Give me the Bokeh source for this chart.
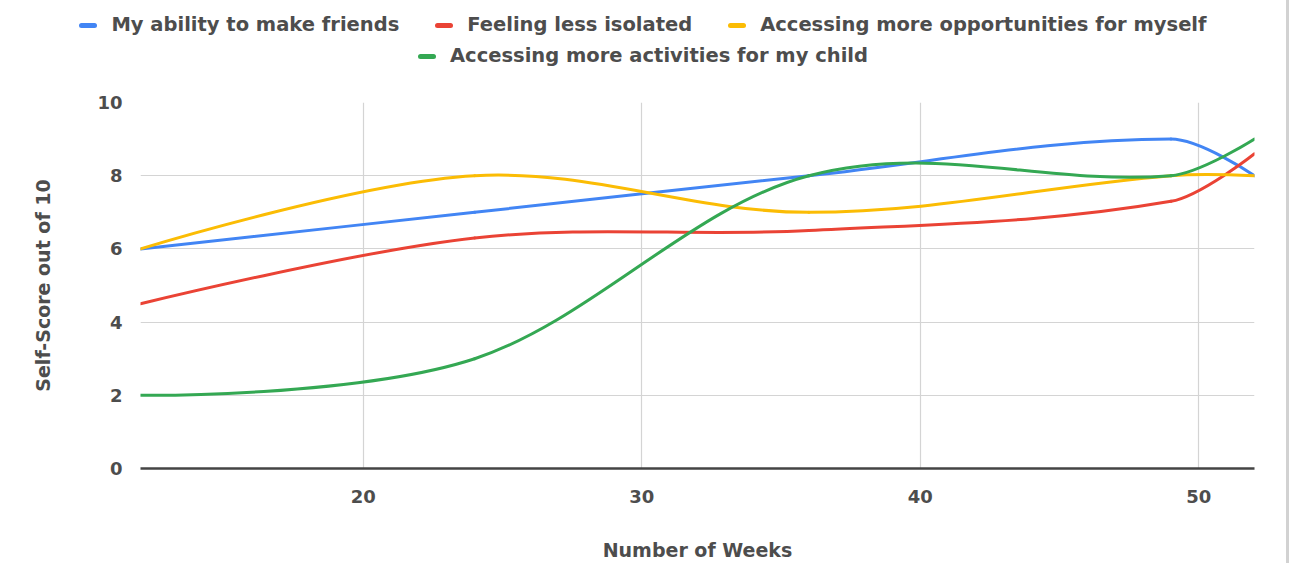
from bokeh.plotting import figure
from bokeh.models import FixedTicker, Div, Range1d
from bokeh.layouts import row, column
from bokeh.embed import file_html
from bokeh.resources import INLINE

# Self-scores recorded at each check-in week
weeks = [12, 24, 36, 49, 52]
make_friends = [6.0, 7.0, 8.0, 9.0, 8.0]
less_isolated = [4.5, 6.3, 6.5, 7.3, 8.6]
opportunities_myself = [6.0, 8.0, 7.0, 8.0, 8.0]
activities_child = [2.0, 3.0, 8.0, 8.0, 9.0]

series_names = [
    "My ability to make friends",
    "Feeling less isolated",
    "Accessing more opportunities for myself",
    "Accessing more activities for my child",
]
series_values = [make_friends, less_isolated, opportunities_myself, activities_child]
series_colors = ["#4285F4", "#EA4335", "#FBBC04", "#34A853"]
legend_rows = [[0, 1, 2], [3]]

x_ticks = [20, 30, 40, 50]
y_ticks = [0, 2, 4, 6, 8, 10]

FONT = "DejaVu Sans"
TEXT = "#4d4d4d"
SMOOTH = 0.35
LEGEND_H = 80
WIDTH = 1286


def bezier_segments(xs, ys, k=SMOOTH):
    """Cubic segments through every point, tangents from the neighbours."""
    seg = dict(x0=[], y0=[], x1=[], y1=[], cx0=[], cy0=[], cx1=[], cy1=[])
    n = len(xs)
    for i in range(n - 1):
        w = xs[i + 1] - xs[i]
        if i == 0:
            c0 = (xs[i], ys[i])
        else:
            span = xs[i + 1] - xs[i - 1]
            c0 = (xs[i] + k * (xs[i + 1] - xs[i - 1]) * w / span,
                  ys[i] + k * (ys[i + 1] - ys[i - 1]) * w / span)
        if i + 1 == n - 1:
            c1 = (xs[i + 1], ys[i + 1])
        else:
            span = xs[i + 2] - xs[i]
            c1 = (xs[i + 1] - k * (xs[i + 2] - xs[i]) * w / span,
                  ys[i + 1] - k * (ys[i + 2] - ys[i]) * w / span)
        seg["x0"].append(xs[i]); seg["y0"].append(ys[i])
        seg["x1"].append(xs[i + 1]); seg["y1"].append(ys[i + 1])
        seg["cx0"].append(c0[0]); seg["cy0"].append(c0[1])
        seg["cx1"].append(c1[0]); seg["cy1"].append(c1[1])
    return seg


p = figure(
    width=WIDTH, height=563 - LEGEND_H,
    x_range=Range1d(12, 52), y_range=Range1d(0, 10),
    output_backend="svg", toolbar_location=None,
    min_border_left=140, min_border_right=32,
    min_border_top=102 - LEGEND_H, min_border_bottom=94,
    outline_line_color=None, margin=0,
)
p.background_fill_color = "white"
p.border_fill_color = "white"

for vals, color in zip(series_values, series_colors):
    seg = bezier_segments(weeks, vals)
    p.bezier(x0=seg["x0"], y0=seg["y0"], x1=seg["x1"], y1=seg["y1"],
             cx0=seg["cx0"], cy0=seg["cy0"], cx1=seg["cx1"], cy1=seg["cy1"],
             line_color=color, line_width=3, line_cap="round")

# Grid
p.xgrid.ticker = FixedTicker(ticks=x_ticks)
p.ygrid.ticker = FixedTicker(ticks=y_ticks)
p.xgrid.grid_line_color = "#d4d4d4"
p.ygrid.grid_line_color = "#d4d4d4"
p.xgrid.grid_line_width = 1.2
p.ygrid.grid_line_width = 1.2

# X axis
xa = p.xaxis[0]
xa.ticker = FixedTicker(ticks=x_ticks)
xa.axis_label = "Number of Weeks"
xa.axis_line_color = "#444444"
xa.axis_line_width = 2.5
xa.major_tick_line_color = None
xa.minor_tick_line_color = None
xa.major_label_standoff = 15
xa.axis_label_standoff = 33
xa.major_label_text_font = FONT
xa.major_label_text_font_style = "bold"
xa.major_label_text_font_size = "18px"
xa.major_label_text_color = TEXT
xa.axis_label_text_font = FONT
xa.axis_label_text_font_style = "bold"
xa.axis_label_text_font_size = "19px"
xa.axis_label_text_color = TEXT

# Y axis
ya = p.yaxis[0]
ya.ticker = FixedTicker(ticks=y_ticks)
ya.axis_label = "Self-Score out of 10"
ya.axis_line_color = None
ya.major_tick_line_color = None
ya.minor_tick_line_color = None
ya.major_label_standoff = 12
ya.axis_label_standoff = 40
ya.major_label_text_font = FONT
ya.major_label_text_font_style = "bold"
ya.major_label_text_font_size = "18px"
ya.major_label_text_color = TEXT
ya.axis_label_text_font = FONT
ya.axis_label_text_font_style = "bold"
ya.axis_label_text_font_size = "19px"
ya.axis_label_text_color = TEXT


# Legend strip across the top: two centred rows of colour keys
def legend_item(i):
    return (
        '<span style="display:inline-flex;align-items:center;margin:0 18px;">'
        f'<span style="display:inline-block;width:18px;height:5px;border-radius:3px;'
        f'background:{series_colors[i]};margin-right:14px;"></span>'
        f'{series_names[i]}</span>'
    )


row_html = []
for k, items in enumerate(legend_rows):
    top = 14 if k == 0 else 9
    row_html.append(
        f'<div style="display:flex;justify-content:center;align-items:center;'
        f'height:22px;margin-top:{top}px;white-space:nowrap;">'
        + "".join(legend_item(i) for i in items) + "</div>"
    )
legend_div = Div(
    text=(f'<div style="width:{WIDTH}px;font-family:\'{FONT}\';font-weight:bold;'
          f'font-size:19.5px;color:{TEXT};line-height:22px;">' + "".join(row_html) + "</div>"),
    width=WIDTH, height=LEGEND_H, margin=0,
)

edge = Div(text="", width=17, height=563, margin=0,
           styles={"border-left": "3px solid #d2d2d2", "height": "563px",
                   "box-sizing": "border-box"})

layout = row(column(legend_div, p), edge)
open("out.html", "w").write(file_html(layout, INLINE))
